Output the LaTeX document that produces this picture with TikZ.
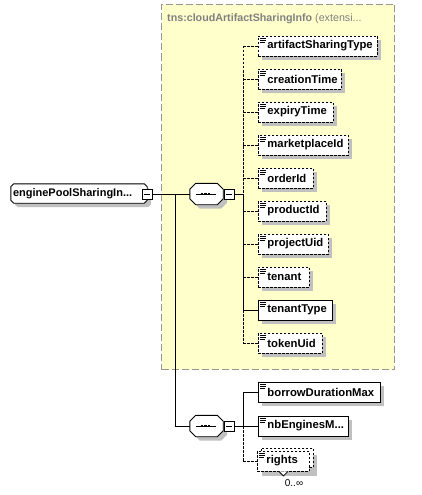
\documentclass[tikz,border=0pt]{standalone}
\usepackage{fontspec}
\setmainfont{Liberation Sans}
\usetikzlibrary{shadows,calc}
\definecolor{ybg}{RGB}{255,255,204}
\definecolor{ybd}{RGB}{150,150,150}
\definecolor{shd}{RGB}{192,192,192}
\definecolor{ttl}{RGB}{128,128,128}
\pgfdeclarelayer{back}\pgfdeclarelayer{mid}\pgfsetlayers{back,mid,main}
\tikzset{
 conn/.style={line width=0.9pt},
 opt/.style={dash pattern=on 2.5pt off 1.5pt},
 elbase/.style={draw, line width=0.9pt, fill=white, anchor=west, minimum height=20pt,
   inner xsep=0pt, inner ysep=0pt, align=left, font=\fontsize{11.3}{13}\selectfont\bfseries},
 elem/.style={elbase, drop shadow={shadow xshift=4pt, shadow yshift=-4pt, fill=shd, opacity=1}},
 minusbox/.style={draw, fill=white, minimum width=10pt, minimum height=10pt, inner sep=0pt, line width=0.9pt,
   path picture={\draw[line width=0.9pt] ([xshift=2pt]path picture bounding box.west) -- ([xshift=-2pt]path picture bounding box.east);}},
 hidden/.style={draw=none, inner sep=0pt},
}
\newcommand\chpath[2]{([xshift=#2]#1.north west) -- ([xshift=-#2]#1.north east) -- ([yshift=-#2]#1.north east) -- ([yshift=#2]#1.south east) -- ([xshift=-#2]#1.south east) -- ([xshift=#2]#1.south west) -- ([yshift=#2]#1.south west) -- ([yshift=-#2]#1.north west) -- cycle}
\newcommand\chshape[2]{%
 \begin{pgfonlayer}{mid}
 \fill[shd, transform canvas={shift={(4pt,-4pt)}}] \chpath{#1}{#2};
 \draw[line width=0.9pt, fill=white] \chpath{#1}{#2};
 \end{pgfonlayer}}
\newcommand\elicon[1]{\draw[line width=0.7pt] ([shift={(2pt,-2.5pt)}]#1.north west) -- ++(6pt,0) ([shift={(2pt,-4.5pt)}]#1.north west) -- ++(6pt,0) ([shift={(2pt,-6.5pt)}]#1.north west) -- ++(4.5pt,0);}
\newcommand\seqicon[1]{\draw[conn] ([xshift=-11pt]#1.center) -- ([xshift=9pt]#1.center);
 \foreach \dx in {-4.5,-1,2.5}{\fill ([xshift=\dx pt]#1.center) +(-1.3pt,-1.3pt) rectangle +(1.3pt,1.3pt);}}
\begin{document}
\begin{tikzpicture}[x=1pt,y=1pt]
\useasboundingbox (0,0) rectangle (421,-495);
% group box
\begin{pgfonlayer}{back}
\node[draw=ybd, fill=ybg, dash pattern=on 7pt off 3pt, line width=1pt, minimum width=233pt, minimum height=365pt, inner sep=0pt, anchor=north west] (grp) at (161,-4) {};
\end{pgfonlayer}
\node[anchor=base west, inner sep=0pt, text=ttl, font=\fontsize{10.7}{12}\selectfont] (title) at (167,-21.5) {\textbf{tns:cloudArtifactSharingInfo}\ (extensi...};
% root
\node[hidden, minimum width=136pt, minimum height=19pt, text width=136pt, align=left, font=\fontsize{11}{13}\selectfont\bfseries] (root) at (79,-193.5) {\hspace*{2pt}enginePoolSharingIn...};
\chshape{root}{3pt}
\node[minusbox] (rootm) at (147,-194) {};
% sequences
\node[hidden, minimum width=33pt, minimum height=21pt] (seq1) at (206.5,-194) {};
\chshape{seq1}{6pt}
\seqicon{seq1}
\node[minusbox] (seq1m) at (229,-194) {};
\node[hidden, minimum width=33pt, minimum height=21pt] (seq2) at (206.5,-426) {};
\chshape{seq2}{6pt}
\seqicon{seq2}
\node[minusbox] (seq2m) at (229,-426) {};
% elements of group
\node[elem, opt, text width=119pt] (e1) at (258,-46) {\hspace*{9pt}artifactSharingType};
\node[elem, opt, text width=83pt] (e2) at (258,-79) {\hspace*{9pt}creationTime};
\node[elem, opt, text width=75pt] (e3) at (258,-112) {\hspace*{9pt}expiryTime};
\node[elem, opt, text width=90pt] (e4) at (258,-145) {\hspace*{9pt}marketplaceId};
\node[elem, opt, text width=55pt] (e5) at (258,-178) {\hspace*{9pt}orderId};
\node[elem, opt, text width=68pt] (e6) at (258,-211) {\hspace*{9pt}productId};
\node[elem, opt, text width=70pt] (e7) at (258,-244) {\hspace*{9pt}projectUid};
\node[elem, opt, text width=51pt] (e8) at (258,-277) {\hspace*{9pt}tenant};
\node[elem, text width=74pt] (e9) at (258,-310) {\hspace*{9pt}tenantType};
\node[elem, opt, text width=64pt] (e10) at (258,-343) {\hspace*{9pt}tokenUid};
% second sequence elements
\node[elem, text width=122pt] (f1) at (258,-392) {\hspace*{9pt}borrowDurationMax};
\node[elem, text width=90pt] (f2) at (258,-426) {\hspace*{9pt}nbEnginesM...};
\fill[shd] (262,-455) rectangle (317,-476);
\node[elbase, opt, text width=52pt, minimum height=19pt] (f3b) at (261,-457.5) {};
\node[elbase, opt, text width=52pt, minimum height=20pt] (f3) at (257,-461) {\hspace*{9pt}rights};
\draw[line width=0.8pt, fill=white] ([xshift=-4.5pt]f3.south) -- ++(4.5pt,-4.5pt) -- ++(4.5pt,4.5pt);
\node[inner sep=0pt, font=\fontsize{10}{12}\selectfont] (occ) at (294,-483) {0..∞};
\foreach \n in {e1,e2,e3,e4,e5,e6,e7,e8,e9,e10,f1,f2,f3}{\elicon{\n}}
% connectors
\coordinate (j1) at (175,-194);
\coordinate (b1) at (243,-194);
\coordinate (b2) at (243,-426);
\draw[conn] (rootm.east) -- (seq1.west);
\draw[conn] (j1) |- (seq2.west);
\draw[conn] (seq1m.east) -- (b1);
\draw[conn] (seq2m.east) -- (b2);
\draw[conn,opt] (e1.west -| b1) -- (b1);
\draw[conn] (b1) -- (e9.west -| b1);
\draw[conn,opt] (e9.west -| b1) -- (e10.west -| b1);
\foreach \n in {e1,e2,e3,e4,e5,e6,e7,e8,e10}{\draw[conn,opt] (\n.west -| b1) -- (\n.west);}
\draw[conn] (e9.west -| b1) -- (e9.west);
\draw[conn] (f1.west -| b2) -- (b2);
\draw[conn,opt] (b2) -- (f3.west -| b2);
\draw[conn] (f1.west -| b2) -- (f1.west);
\draw[conn] (f2.west -| b2) -- (f2.west);
\draw[conn,opt] (f3.west -| b2) -- (f3.west);
\end{tikzpicture}
\end{document}
